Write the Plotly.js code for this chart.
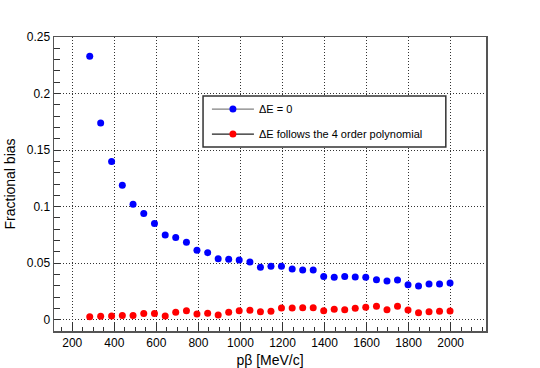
<!DOCTYPE html>
<html>
<head>
<meta charset="utf-8">
<script src="https://cdn.plot.ly/plotly-3.0.1.min.js"></script>
<style>html,body{margin:0;padding:0;background:#fff;}#chart{width:540px;height:368px;}</style>
</head>
<body>
<div id="chart"></div>
<script>
// p*beta values [MeV/c]
var pbeta = [283, 335, 387, 438, 489, 540, 591, 642, 692, 743, 793, 844, 894, 944, 994,
             1045, 1095, 1145, 1195, 1246, 1296, 1346, 1396, 1446, 1496, 1546, 1596,
             1647, 1697, 1747, 1797, 1847, 1897, 1947, 1997];
// Fractional bias, Delta E = 0
var biasZero = [0.233, 0.174, 0.140, 0.119, 0.102, 0.094, 0.085, 0.075, 0.0726, 0.0685,
                0.0614, 0.0593, 0.054, 0.0534, 0.0528, 0.0511, 0.0464, 0.0472, 0.0472,
                0.0449, 0.0440, 0.0440, 0.0381, 0.0375, 0.0381, 0.0378, 0.0375, 0.0354,
                0.0342, 0.0351, 0.0310, 0.0298, 0.0316, 0.0316, 0.0325];
// Fractional bias, Delta E follows the 4 order polynomial
var biasPoly = [0.0027, 0.0030, 0.0033, 0.0036, 0.0036, 0.0054, 0.0054, 0.0033, 0.0065,
                0.0080, 0.0050, 0.0056, 0.0041, 0.0065, 0.0080, 0.0083, 0.0071, 0.0074,
                0.0103, 0.0103, 0.0106, 0.0106, 0.0080, 0.0092, 0.0089, 0.0101, 0.0109,
                0.0118, 0.0089, 0.0118, 0.0086, 0.0062, 0.0071, 0.0074, 0.0077];
var seriesNames = ['\u0394E = 0', '\u0394E follows the 4 order polynomial'];

var FONT = 'Liberation Sans, Arial, Helvetica, sans-serif';

var traces = [
  {x: pbeta, y: biasZero, mode: 'markers', type: 'scatter', showlegend: false,
   marker: {color: '#0000ff', size: 7}},
  {x: pbeta, y: biasPoly, mode: 'markers', type: 'scatter', showlegend: false,
   marker: {color: '#ff0000', size: 7}},
  {x: [null], y: [null], mode: 'lines+markers', type: 'scatter', name: seriesNames[0],
   legendgroup: 'a', line: {color: '#808080', width: 1.2}, marker: {color: '#0000ff', size: 7}},
  {x: [null], y: [null], mode: 'lines+markers', type: 'scatter', name: seriesNames[1],
   legendgroup: 'b', line: {color: '#222222', width: 1.2}, marker: {color: '#ff0000', size: 7}}
];

var axisCommon = {
  showline: true, linecolor: '#555', linewidth: 1.5, mirror: true,
  ticks: 'inside', tickcolor: '#333', tickwidth: 1,
  showgrid: true, gridcolor: '#333', gridwidth: 1, griddash: '1px,2px',
  zeroline: false,
  tickfont: {family: FONT, size: 12, color: '#000'}
};

var layout = {
  width: 540, height: 368,
  margin: {l: 54, r: 54, t: 37, b: 37},
  paper_bgcolor: '#fff', plot_bgcolor: '#fff',
  font: {family: FONT, color: '#000'},
  xaxis: Object.assign({}, axisCommon, {
    range: [113, 2168], dtick: 200, tick0: 0, ticklen: 9,
    minor: {dtick: 50, ticklen: 4, ticks: 'inside', tickcolor: '#333', showgrid: false},
    title: {text: 'p\u03b2 [MeV/c]', font: {family: FONT, size: 14}, standoff: 6}
  }),
  yaxis: Object.assign({}, axisCommon, {
    range: [-0.01, 0.25], dtick: 0.05, tick0: 0, ticklen: 7,
    minor: {dtick: 0.01, ticklen: 6, ticks: 'inside', tickcolor: '#333', showgrid: false},
    title: {text: 'Fractional bias', font: {family: FONT, size: 14}, standoff: 8}
  }),
  legend: {
    x: 0.354, y: 0.804, xanchor: 'left', yanchor: 'top',
    bgcolor: 'rgba(0,0,0,0)', borderwidth: 0,
    itemwidth: 42, traceorder: 'grouped', tracegroupgap: 6,
    font: {family: FONT, size: 11, color: '#000'}
  },
  shapes: [
    {type: 'rect', xref: 'paper', yref: 'paper', layer: 'above',
     x0: 0.345, x1: 0.907, y0: 0.626, y1: 0.799,
     line: {color: '#333', width: 1.5}, fillcolor: '#fff'}
  ]
};

Plotly.newPlot('chart', traces, layout, {staticPlot: true, displayModeBar: false});
</script>
</body>
</html>
